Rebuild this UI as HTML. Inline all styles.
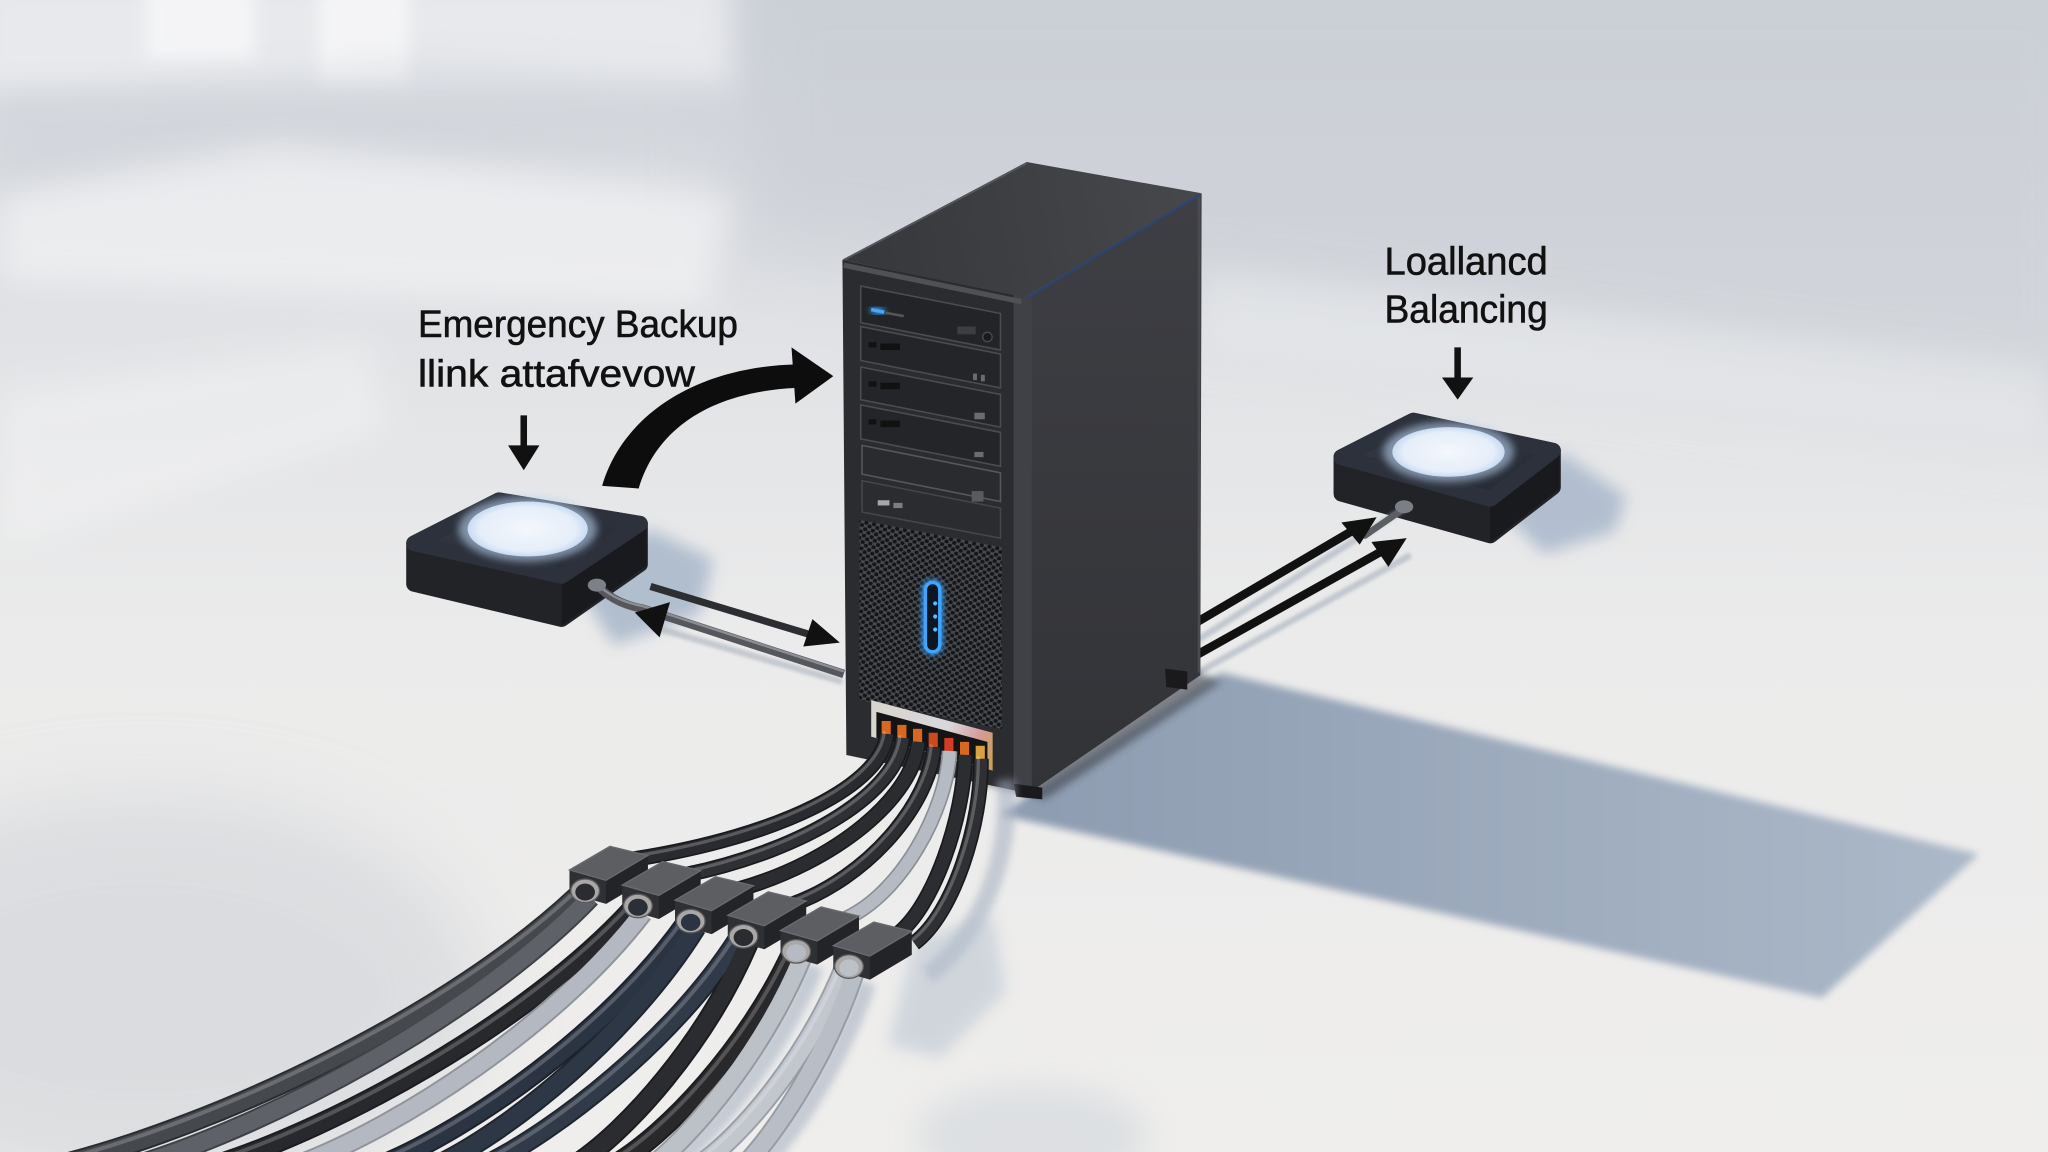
<!DOCTYPE html>
<html><head><meta charset="utf-8">
<style>
html,body{margin:0;padding:0;width:2048px;height:1152px;overflow:hidden;background:#ebebeb}
svg{display:block}
text{font-family:"Liberation Sans",sans-serif;fill:#111;stroke:#111;stroke-width:0.45}
</style></head>
<body>
<svg width="2048" height="1152" viewBox="0 0 1568 882" preserveAspectRatio="none" xmlns="http://www.w3.org/2000/svg">
<defs>
 <linearGradient id="bg" x1="0" y1="0" x2="0" y2="1">
  <stop offset="0" stop-color="#d0d4db"/>
  <stop offset="0.28" stop-color="#e0e2e5"/>
  <stop offset="0.55" stop-color="#ebebeb"/>
  <stop offset="1" stop-color="#efeeec"/>
 </linearGradient>
 <linearGradient id="topG" x1="645" y1="199" x2="920" y2="148" gradientUnits="userSpaceOnUse">
  <stop offset="0" stop-color="#36373b"/><stop offset="1" stop-color="#47484c"/>
 </linearGradient>
 <linearGradient id="sideG" x1="0" y1="0" x2="0" y2="1">
  <stop offset="0" stop-color="#3e3f44"/><stop offset="1" stop-color="#323337"/>
 </linearGradient>
 <linearGradient id="silver" x1="667" y1="540" x2="760" y2="580" gradientUnits="userSpaceOnUse">
  <stop offset="0" stop-color="#d9d4cc"/><stop offset="0.6" stop-color="#d8d8dc"/><stop offset="0.85" stop-color="#d69a98"/><stop offset="1" stop-color="#c9a25a"/>
 </linearGradient>
 <linearGradient id="padTop" x1="0" y1="0" x2="1" y2="1">
  <stop offset="0" stop-color="#353b48"/><stop offset="1" stop-color="#242831"/>
 </linearGradient>
 <linearGradient id="shG" x1="800" y1="0" x2="1500" y2="0" gradientUnits="userSpaceOnUse">
  <stop offset="0" stop-color="#8e9db1"/><stop offset="1" stop-color="#abb8c8"/>
 </linearGradient>
 <radialGradient id="lamp" cx="0.5" cy="0.5" r="0.5">
  <stop offset="0" stop-color="#f4f7fc"/><stop offset="0.8" stop-color="#e6eef9"/><stop offset="1" stop-color="#c9dbf2"/>
 </radialGradient>
 <pattern id="mesh" width="6" height="5" patternUnits="userSpaceOnUse" patternTransform="rotate(11)">
  <rect width="6" height="5" fill="#48494e"/>
  <circle cx="1.5" cy="1.25" r="1.65" fill="#141517"/>
  <circle cx="4.5" cy="3.75" r="1.65" fill="#141517"/>
 </pattern>
 <filter id="b30" x="-50%" y="-50%" width="200%" height="200%"><feGaussianBlur stdDeviation="30"/></filter>
 <filter id="b12" x="-50%" y="-50%" width="200%" height="200%"><feGaussianBlur stdDeviation="12"/></filter>
 <filter id="b6" x="-50%" y="-50%" width="200%" height="200%"><feGaussianBlur stdDeviation="6"/></filter>
 <filter id="b3" x="-50%" y="-50%" width="200%" height="200%"><feGaussianBlur stdDeviation="3"/></filter>
 <filter id="b1" x="-50%" y="-50%" width="200%" height="200%"><feGaussianBlur stdDeviation="1.2"/></filter>
 <filter id="glow" x="-100%" y="-100%" width="300%" height="300%"><feGaussianBlur stdDeviation="2.5" result="g"/><feMerge><feMergeNode in="g"/><feMergeNode in="g"/><feMergeNode in="SourceGraphic"/></feMerge></filter>
</defs>

<!-- ===== BACKGROUND ===== -->
<rect width="1568" height="882" fill="url(#bg)"/>
<polygon points="560,-40 1620,-40 1620,330 560,190" fill="#c6cad2" opacity="0.55" filter="url(#b30)"/>
<rect x="-20" y="-20" width="580" height="90" fill="#f1f2f4" opacity="0.7" filter="url(#b12)"/>
<rect x="112" y="-10" width="83" height="55" fill="#fafafb" opacity="0.7" filter="url(#b6)"/>
<rect x="244" y="-10" width="69" height="75" fill="#fafafb" opacity="0.7" filter="url(#b6)"/>
<polygon points="0,75 330,45 560,60 560,110 0,150" fill="#cfd3d9" opacity="0.45" filter="url(#b12)"/>
<polygon points="0,150 210,110 561,150 540,235 0,215" fill="#f6f6f7" opacity="0.6" filter="url(#b12)"/>
<polygon points="0,300 280,260 300,330 0,420" fill="#f4f4f5" opacity="0.45" filter="url(#b12)"/>
<polygon points="920,205 1568,280 1568,335 920,265" fill="#eceef0" opacity="0.45" filter="url(#b12)"/>
<ellipse cx="110" cy="760" rx="260" ry="150" fill="#c9cdd4" opacity="0.5" filter="url(#b30)"/>
<ellipse cx="790" cy="870" rx="90" ry="40" fill="#bcc6d2" opacity="0.35" filter="url(#b12)"/>

<!-- tower floor shadow -->
<polygon points="935,515 1515,654 1395,764 766,624 790,607" fill="url(#shG)" filter="url(#b3)"/>

<!-- pad shadows -->
<polygon points="440,446 497,405 546,428 536,470 470,494" fill="#a8b7ca" opacity="0.85" filter="url(#b6)"/>
<polygon points="1150,392 1195,346 1245,380 1236,407 1182,424" fill="#a9b8cb" opacity="0.85" filter="url(#b6)"/>

<!-- ===== LEFT PAD ===== -->
<g>
 <polygon points="317,416 382,383 490,401 490,432 430,474 317,447" fill="#212327" stroke="#212327" stroke-width="12" stroke-linejoin="round"/>
 <polygon points="430,444 495,400 495,433 430,479" fill="#16171a" opacity="0.7"/>
 <polygon points="317,416 382,383 490,401 430,441" fill="url(#padTop)" stroke="#2c313c" stroke-width="12" stroke-linejoin="round"/>
 <ellipse cx="404" cy="405" rx="53" ry="25" fill="#b9d0ef" opacity="0.6" filter="url(#b3)"/>
 <ellipse cx="404" cy="405" rx="46" ry="21" fill="url(#lamp)"/>
</g>

<!-- ===== RIGHT PAD ===== -->
<g>
 <polygon points="1027,350 1082,322 1189,345 1189,373 1141,410 1027,378" fill="#212327" stroke="#212327" stroke-width="12" stroke-linejoin="round"/>
 <polygon points="1141,385 1194,345 1194,374 1141,415" fill="#16171a" opacity="0.7"/>
 <polygon points="1027,350 1082,322 1189,345 1141,382" fill="url(#padTop)" stroke="#2c313c" stroke-width="12" stroke-linejoin="round"/>
 <ellipse cx="1109" cy="346" rx="50" ry="23" fill="#b9d0ef" opacity="0.6" filter="url(#b3)"/>
 <ellipse cx="1109" cy="346" rx="43" ry="19" fill="url(#lamp)"/>
</g>

<!-- ===== RIGHT CONNECTIONS ===== -->
<line x1="917" y1="490" x2="1074" y2="390" stroke="#9aa6b5" stroke-width="5" opacity="0.5" filter="url(#b1)"/>
<line x1="917" y1="515" x2="1080" y2="425" stroke="#9aa6b5" stroke-width="5" opacity="0.5" filter="url(#b1)"/>
<line x1="1045" y1="410" x2="1074" y2="390" stroke="#5b5e63" stroke-width="5" stroke-linecap="round"/>
<ellipse cx="1075" cy="388" rx="7" ry="5" fill="#7b7e84"/>
<line x1="917" y1="476" x2="1036" y2="406" stroke="#111" stroke-width="6.5"/>
<polygon points="1054,396 1027,400 1041,417" fill="#111"/>
<line x1="917" y1="501" x2="1058" y2="422" stroke="#111" stroke-width="6.5"/>
<polygon points="1077,412 1050,415 1063,434" fill="#111"/>

<!-- ===== LEFT CONNECTIONS ===== -->
<line x1="500" y1="480" x2="645" y2="522" stroke="#a4adb9" stroke-width="5" opacity="0.55" filter="url(#b1)"/>
<path d="M457,448 Q470,462 492,466 L646,516" fill="none" stroke="#55575c" stroke-width="6.5"/>
<path d="M457,447 Q470,460 492,464 L646,514" fill="none" stroke="#8b8e93" stroke-width="1.8"/>
<ellipse cx="457" cy="448" rx="7" ry="5" fill="#7d8187"/>
<line x1="498" y1="449" x2="624" y2="487" stroke="#2d2e31" stroke-width="5.5"/>
<polygon points="643,492 622,474 615,495" fill="#111"/>
<polygon points="486,469 513,461 505,488" fill="#111"/>

<!-- ===== TOWER ===== -->
<polygon points="645,572 800,612 935,522 910,512 776,600" fill="#3a3f48" opacity="0.6" filter="url(#b3)"/>
<polygon points="784,228 920,148 919,517 788,607" fill="url(#sideG)"/>
<line x1="918" y1="150" x2="918" y2="515" stroke="#4a4b50" stroke-width="2"/>
<polygon points="645,199 786,124 920,148 784,228" fill="url(#topG)"/>
<line x1="786" y1="228" x2="919" y2="149" stroke="#2b4572" stroke-width="2.2" opacity="0.8"/>
<line x1="646" y1="199" x2="786" y2="125" stroke="#55565b" stroke-width="1.5"/>
<polygon points="774,226 790,228 790,607 776,605" fill="#404146"/>
<polygon points="645,199 776,226 776,605 648,578" fill="#2b2c30"/>
<polyline points="646,203 782,231" fill="none" stroke="#505156" stroke-width="4"/>
<g stroke="#4b4c51" stroke-width="1.2">
 <polygon points="659,219 766,240 766,268 659,247" fill="#232427"/>
 <polygon points="659,250 766,271 766,297 659,276" fill="#242528"/>
 <polygon points="659,281 766,302 766,327 659,306" fill="#242528"/>
 <polygon points="659,310 766,331 766,357 659,336" fill="#242528"/>
 <polygon points="660,341 766,362 766,384 660,363" fill="#2a2b2f" stroke="#56575c"/>
 <polygon points="660,368 766,389 766,412 660,392" fill="#2b2c30" stroke="#45464b"/>
</g>
<line x1="667" y1="237" x2="677" y2="239" stroke="#45a6ff" stroke-width="2.6" filter="url(#glow)"/>
<line x1="678" y1="239.5" x2="692" y2="242" stroke="#555" stroke-width="2"/>
<rect x="733" y="250" width="14" height="6" fill="#3d3e43"/>
<circle cx="756" cy="258" r="3.6" fill="#1a1b1d" stroke="#4a4b50"/>
<g fill="#111">
 <rect x="665" y="262" width="6" height="4"/><rect x="674" y="263" width="15" height="5"/>
 <rect x="665" y="292" width="6" height="4"/><rect x="674" y="293" width="15" height="5"/>
 <rect x="665" y="321" width="6" height="4"/><rect x="674" y="322" width="15" height="5"/>
</g>
<g fill="#6b6c70">
 <rect x="745" y="286" width="3" height="5"/><rect x="751" y="287" width="3" height="5"/>
 <rect x="746" y="316" width="8" height="5"/>
 <rect x="746" y="346" width="7" height="4"/>
 <rect x="744" y="376" width="9" height="8" fill="#5a5b60"/>
</g>
<rect x="672" y="383" width="9" height="4" fill="#a6a7ab"/>
<rect x="684" y="385" width="7" height="4" fill="#7d7e82"/>
<polygon points="658,398 767,419 767,558 658,536" fill="url(#mesh)"/>
<rect x="708.5" y="446" width="11" height="53" rx="5.5" fill="#0c1724" stroke="#3ea6ff" stroke-width="2.6" filter="url(#glow)"/>
<g fill="#5cbaff"><circle cx="716" cy="462" r="1.6"/><circle cx="716" cy="472" r="1.6"/><circle cx="716" cy="482" r="1.6"/></g>
<polygon points="667,536 760,561 760,590 667,564" fill="url(#silver)"/>
<polygon points="671,545 756,568 756,588 671,565" fill="#141414"/>
<g fill="#d8681f">
 <rect x="675" y="552" width="7" height="11"/><rect x="687" y="555" width="7" height="11"/>
 <rect x="699" y="558" width="7" height="11"/><rect x="711" y="561" width="7" height="11" fill="#c94a1c"/>
 <rect x="723" y="565" width="7" height="11" fill="#d43c23"/><rect x="735" y="568" width="7" height="11"/>
 <rect x="747" y="571" width="7" height="11" fill="#d8a040"/>
</g>
<polygon points="776,600 798,603 798,612 778,610" fill="#1a1a1c"/>
<polygon points="892,512 909,514 909,528 893,526" fill="#1a1a1c"/>

<!-- ===== CABLE SHADOWS ===== -->
<g fill="none" stroke="#a3afbf" stroke-width="14" opacity="0.55" filter="url(#b3)" transform="translate(10,7)">
 <path d="M654,745 C632,811 592,870 565,892"/>
 <path d="M614,733 C584,805 531,868 495,892"/>
 <path d="M760,590 C765,650 740,710 700,740"/>
</g>
<polygon points="700,720 760,700 770,760 720,810 680,800" fill="#b3bfcd" opacity="0.5" filter="url(#b6)"/>

<!-- ===== CABLE FAN (below connectors) ===== -->
<g fill="none">
 <g stroke-width="16">
  <path d="M444,684 C345,778 168,861 45,892" stroke="#2a2b2e"/>
  <path d="M452,687 C364,779 206,861 105,892" stroke="#3e4146"/>
  <path d="M484,696 C403,784 257,863 165,892" stroke="#1b1c1f"/>
  <path d="M492,699 C425,786 305,863 228,892" stroke="#8f949c"/>
  <path d="M525,707 C466,790 360,864 292,892" stroke="#1b212b"/>
  <path d="M533,710 C482,792 391,865 335,892" stroke="#1e2530"/>
  <path d="M565,719 C515,797 425,866 372,892" stroke="#1f252f"/>
  <path d="M573,722 C540,799 480,866 440,892" stroke="#1b1c1f"/>
  <path d="M606,730 C572,803 511,868 470,892" stroke="#1b1c1f"/>
  <path d="M614,733 C584,805 531,868 500,892" stroke="#959aa2"/>
  <path d="M646,742 C618,810 568,870 535,892" stroke="#9ba0a8"/>
  <path d="M654,745 C632,811 592,870 570,892" stroke="#979ca4"/>
 </g>
 <g stroke-width="13">
  <path d="M444,684 C345,778 168,861 45,892" stroke="#45484d"/>
  <path d="M452,687 C364,779 206,861 105,892" stroke="#5e6167"/>
  <path d="M484,696 C403,784 257,863 165,892" stroke="#27292d"/>
  <path d="M492,699 C425,786 305,863 228,892" stroke="#b4b8c0"/>
  <path d="M525,707 C466,790 360,864 292,892" stroke="#2b3442"/>
  <path d="M533,710 C482,792 391,865 335,892" stroke="#2e3745"/>
  <path d="M565,719 C515,797 425,866 372,892" stroke="#313a48"/>
  <path d="M573,722 C540,799 480,866 440,892" stroke="#2a2c30"/>
  <path d="M606,730 C572,803 511,868 470,892" stroke="#29292c"/>
  <path d="M614,733 C584,805 531,868 500,892" stroke="#bcc0c7"/>
  <path d="M646,742 C618,810 568,870 535,892" stroke="#c2c6cd"/>
  <path d="M654,745 C632,811 592,870 570,892" stroke="#b9bdc5"/>
 </g>
 <g stroke-width="3" stroke="#ffffff" opacity="0.2" transform="translate(-2,-3)">
  <path d="M444,684 C345,778 168,861 45,892"/>
  <path d="M484,696 C403,784 257,863 165,892"/>
  <path d="M525,707 C466,790 360,864 292,892"/>
  <path d="M565,719 C515,797 425,866 372,892"/>
  <path d="M606,730 C572,803 511,868 470,892"/>
  <path d="M646,742 C618,810 568,870 535,892"/>
 </g>
</g>

<!-- ===== UPPER CABLE BUNDLE ===== -->
<g fill="none">
 <g stroke-width="12" stroke="#18191b">
  <path d="M751,581 C752,630 730,700 700,722"/>
  <path d="M739,578 C738,625 715,695 686,716"/>
  <path d="M727,575 C725,620 690,685 646,704" stroke="#8a8f97"/>
  <path d="M715,572 C712,615 665,672 605,693"/>
  <path d="M703,568 C700,610 640,660 565,681"/>
  <path d="M691,565 C688,605 620,650 524,670"/>
  <path d="M679,562 C676,600 600,640 484,658"/>
 </g>
 <g stroke-width="9.5">
  <path d="M751,581 C752,630 730,700 700,722" stroke="#2e3034"/>
  <path d="M739,578 C738,625 715,695 686,716" stroke="#2b2d31"/>
  <path d="M727,575 C725,620 690,685 646,704" stroke="#b6bac2"/>
  <path d="M715,572 C712,615 665,672 605,693" stroke="#2c2e32"/>
  <path d="M703,568 C700,610 640,660 565,681" stroke="#2a2c30"/>
  <path d="M691,565 C688,605 620,650 524,670" stroke="#2e3034"/>
  <path d="M679,562 C676,600 600,640 484,658" stroke="#2a2b2f"/>
 </g>
 <g stroke-width="2.5" stroke="#ffffff" opacity="0.22" transform="translate(-2,-2)">
  <path d="M751,581 C752,630 730,700 700,722"/>
  <path d="M715,572 C712,615 665,672 605,693"/>
  <path d="M691,565 C688,605 620,650 524,670"/>
  <path d="M679,562 C676,600 600,640 484,658"/>
 </g>
</g>

<!-- ===== CONNECTOR BOXES ===== -->
<g>
 <g transform="translate(434,646)">
  <polygon points="2,20 30,28 62,9 62,27 30,46 2,38" fill="#2f3034"/>
  <polygon points="30,28 62,9 62,27 30,46" fill="#232427"/>
  <polygon points="2,20 33,2 62,9 30,28" fill="#5d5e62" stroke="#6a6b6f" stroke-width="1"/>
  <ellipse cx="14" cy="36" rx="11" ry="9" fill="#a9a8a6" stroke="#5a5b5f"/>
  <ellipse cx="14" cy="37" rx="7.5" ry="6.5" fill="#2a2c30"/>
 </g>
 <g transform="translate(474.4,657.6)">
  <polygon points="2,20 30,28 62,9 62,27 30,46 2,38" fill="#2f3034"/>
  <polygon points="30,28 62,9 62,27 30,46" fill="#232427"/>
  <polygon points="2,20 33,2 62,9 30,28" fill="#5d5e62" stroke="#6a6b6f" stroke-width="1"/>
  <ellipse cx="14" cy="36" rx="11" ry="9" fill="#a9a8a6" stroke="#5a5b5f"/>
  <ellipse cx="14" cy="37" rx="7.5" ry="6.5" fill="#2a2f38"/>
 </g>
 <g transform="translate(514.8,669.2)">
  <polygon points="2,20 30,28 62,9 62,27 30,46 2,38" fill="#2f3034"/>
  <polygon points="30,28 62,9 62,27 30,46" fill="#232427"/>
  <polygon points="2,20 33,2 62,9 30,28" fill="#5d5e62" stroke="#6a6b6f" stroke-width="1"/>
  <ellipse cx="14" cy="36" rx="11" ry="9" fill="#a9a8a6" stroke="#5a5b5f"/>
  <ellipse cx="14" cy="37" rx="7.5" ry="6.5" fill="#2b3442"/>
 </g>
 <g transform="translate(555.2,680.8)">
  <polygon points="2,20 30,28 62,9 62,27 30,46 2,38" fill="#2f3034"/>
  <polygon points="30,28 62,9 62,27 30,46" fill="#232427"/>
  <polygon points="2,20 33,2 62,9 30,28" fill="#5d5e62" stroke="#6a6b6f" stroke-width="1"/>
  <ellipse cx="14" cy="36" rx="11" ry="9" fill="#a9a8a6" stroke="#5a5b5f"/>
  <ellipse cx="14" cy="37" rx="7.5" ry="6.5" fill="#2a2c30"/>
 </g>
 <g transform="translate(595.6,692.4)">
  <polygon points="2,20 30,28 62,9 62,27 30,46 2,38" fill="#2f3034"/>
  <polygon points="30,28 62,9 62,27 30,46" fill="#232427"/>
  <polygon points="2,20 33,2 62,9 30,28" fill="#5d5e62" stroke="#6a6b6f" stroke-width="1"/>
  <ellipse cx="14" cy="36" rx="11" ry="9" fill="#a9a8a6" stroke="#5a5b5f"/>
  <ellipse cx="14" cy="37" rx="7.5" ry="6.5" fill="#b6bac2"/>
 </g>
 <g transform="translate(636,704)">
  <polygon points="2,20 30,28 62,9 62,27 30,46 2,38" fill="#2f3034"/>
  <polygon points="30,28 62,9 62,27 30,46" fill="#232427"/>
  <polygon points="2,20 33,2 62,9 30,28" fill="#5d5e62" stroke="#6a6b6f" stroke-width="1"/>
  <ellipse cx="14" cy="36" rx="11" ry="9" fill="#a9a8a6" stroke="#5a5b5f"/>
  <ellipse cx="14" cy="37" rx="7.5" ry="6.5" fill="#bcc0c7"/>
 </g>
</g>

<!-- ===== ARROWS (labels) ===== -->
<line x1="401" y1="318" x2="401" y2="343" stroke="#111" stroke-width="5"/>
<polygon points="389,341 413,341 401,360" fill="#111"/>
<line x1="1116" y1="266" x2="1116" y2="291" stroke="#111" stroke-width="5"/>
<polygon points="1104,289 1128,289 1116,306" fill="#111"/>
<path d="M461,372 C476,320 530,281 610,279 L610,297 C542,300 502,330 489,374 Z" fill="#0d0d0d"/>
<polygon points="638,288 606,266 609,309" fill="#0d0d0d"/>

<!-- ===== LABELS ===== -->
<text x="320" y="258" font-size="29" textLength="245" lengthAdjust="spacingAndGlyphs">Emergency Backup</text>
<text x="320" y="296" font-size="29" textLength="212" lengthAdjust="spacingAndGlyphs">llink attafvevow</text>
<text x="1060" y="210" font-size="30" textLength="125" lengthAdjust="spacingAndGlyphs">Loallancd</text>
<text x="1060" y="247" font-size="30" textLength="125" lengthAdjust="spacingAndGlyphs">Balancing</text>
</svg>
</body></html>
